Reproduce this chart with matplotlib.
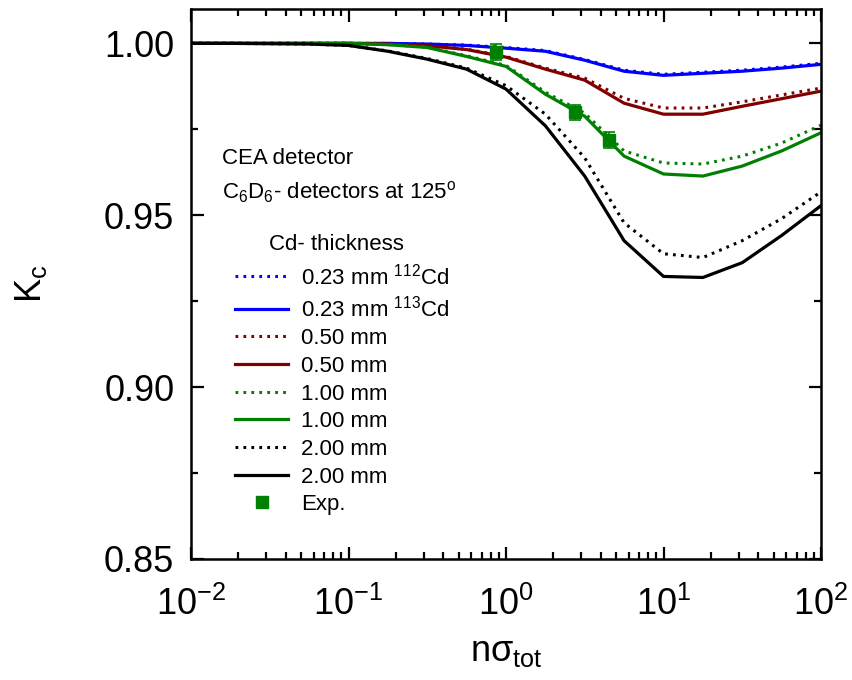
import matplotlib
matplotlib.use("Agg")
from matplotlib import pyplot as plt
from matplotlib.lines import Line2D
from matplotlib.ticker import MultipleLocator, LogLocator, NullFormatter

plt.rcParams['font.family'] = ['Liberation Sans', 'DejaVu Sans']
plt.rcParams['mathtext.fontset'] = 'custom'
plt.rcParams['mathtext.rm'] = 'Liberation Sans'
plt.rcParams['mathtext.it'] = 'Liberation Sans:italic'
plt.rcParams['mathtext.bf'] = 'Liberation Sans:bold'
plt.rcParams['axes.unicode_minus'] = False

# n*sigma_tot values where the model was evaluated
nsig = [0.01, 0.0178, 0.0316, 0.0562, 0.1, 0.178, 0.316, 0.562,
        1.0, 1.78, 3.16, 5.62, 10.0, 17.8, 31.6, 56.2, 100.0]

# K_c, dotted = 112Cd, solid = 113Cd
k_023_112 = [1.0, 1.0, 1.0, 1.0, 1.0, 1.0, 0.9998, 0.9995,
             0.9988, 0.9979, 0.9953, 0.9922, 0.9910, 0.9916, 0.9922, 0.9931, 0.9942]
k_023_113 = [1.0, 1.0, 1.0, 1.0, 1.0, 1.0, 0.9998, 0.9994,
             0.9986, 0.9977, 0.9951, 0.9919, 0.9907, 0.9913, 0.9919, 0.9928, 0.9939]
k_050_112 = [1.0, 1.0, 1.0, 1.0, 1.0, 0.9998, 0.9993, 0.9983,
             0.9962, 0.9928, 0.9899, 0.9840, 0.9812, 0.9812, 0.9830, 0.9850, 0.9870]
k_050_113 = [1.0, 1.0, 1.0, 1.0, 1.0, 0.9998, 0.9993, 0.9982,
             0.9960, 0.9925, 0.9893, 0.9826, 0.9794, 0.9794, 0.9817, 0.9839, 0.9861]
k_100_112 = [1.0, 1.0, 1.0, 1.0, 1.0, 0.9997, 0.9989, 0.9964,
             0.9936, 0.9858, 0.9797, 0.9687, 0.9652, 0.9649, 0.9672, 0.9710, 0.9762]
k_100_113 = [1.0, 1.0, 1.0, 1.0, 1.0, 0.9996, 0.9988, 0.9962,
             0.9933, 0.9852, 0.9788, 0.9672, 0.9620, 0.9614, 0.9643, 0.9687, 0.9740]
k_200_112 = [1.0, 1.0, 0.9999, 0.9998, 0.9994, 0.9978, 0.9956, 0.9928,
             0.9877, 0.9794, 0.9667, 0.9478, 0.9388, 0.9377, 0.9426, 0.9490, 0.9568]
k_200_113 = [1.0, 1.0, 0.9999, 0.9998, 0.9994, 0.9977, 0.9954, 0.9925,
             0.9867, 0.9760, 0.9614, 0.9426, 0.9322, 0.9319, 0.9362, 0.9441, 0.9528]

# experimental points
exp_x = [0.87, 2.74, 4.5]
exp_y = [0.9975, 0.9800, 0.9719]
exp_err = [0.0022, 0.0022, 0.0024]

fig = plt.figure(figsize=(8.52, 6.8), dpi=100)
ax = fig.add_axes([191 / 852, 121 / 680, 630 / 852, 550 / 680])

series = [
    (k_023_112, 'blue', ':', '0.23 mm $^{112}$Cd'),
    (k_023_113, 'blue', '-', '0.23 mm $^{113}$Cd'),
    (k_050_112, '#800000', ':', '0.50 mm'),
    (k_050_113, '#800000', '-', '0.50 mm'),
    (k_100_112, 'green', ':', '1.00 mm'),
    (k_100_113, 'green', '-', '1.00 mm'),
    (k_200_112, 'black', ':', '2.00 mm'),
    (k_200_113, 'black', '-', '2.00 mm'),
]

handles = []
for vals, col, ls, lab in series:
    if ls == ':':
        ln, = ax.plot(nsig, vals, color=col, lw=2.2, ls=(0, (0.9, 1.7)), label=lab)
    else:
        ln, = ax.plot(nsig, vals, color=col, lw=2.3, ls='-', label=lab)
    handles.append(ln)

ax.errorbar(exp_x, exp_y, yerr=exp_err, fmt='s', color='green', ms=9,
            capsize=4, elinewidth=1.2, capthick=1.2, zorder=5)
handles.append(Line2D([], [], marker='s', color='green', ls='none', ms=9, label='Exp.'))

ax.set_xscale('log')
ax.set_xlim(0.01, 100)
ax.set_ylim(0.85, 1.01)
ax.yaxis.set_major_locator(MultipleLocator(0.05))
ax.yaxis.set_minor_locator(MultipleLocator(0.025))
ax.xaxis.set_major_locator(LogLocator(base=10, numticks=10))
ax.xaxis.set_minor_locator(LogLocator(base=10, subs=range(2, 10), numticks=20))
ax.xaxis.set_minor_formatter(NullFormatter())
ax.yaxis.set_major_formatter(matplotlib.ticker.FormatStrFormatter('%.2f'))

ax.tick_params(which='both', direction='in', top=True, right=True, width=1.6)
ax.tick_params(which='major', length=9, labelsize=26)
ax.tick_params(which='minor', length=5)
ax.tick_params(axis='x', which='major', pad=20)
ax.tick_params(axis='y', which='major', pad=12)
for sp in ax.spines.values():
    sp.set_linewidth(1.8)

ax.set_xlabel('n\u03c3$_{\\mathrm{tot}}$', fontsize=26, labelpad=8)
ax.set_ylabel('K$_{\\mathrm{c}}$', fontsize=26, labelpad=40)

ax.text(0.049, 0.729, 'CEA detector', transform=ax.transAxes, fontsize=16, va='center')
ax.text(0.049, 0.667, 'C$_6$D$_6$- detectors at 125$^{\\mathrm{o}}$', transform=ax.transAxes,
        fontsize=16, va='center')
ax.text(0.124, 0.571, 'Cd- thickness', transform=ax.transAxes, fontsize=16, va='center')

ax.legend(handles=handles, loc='upper left', bbox_to_anchor=(0.07, 0.538),
          frameon=False, fontsize=16, handlelength=2.4, handletextpad=0.55,
          labelspacing=0.3, borderpad=0, borderaxespad=0)

fig.savefig('out.png', dpi=100)
